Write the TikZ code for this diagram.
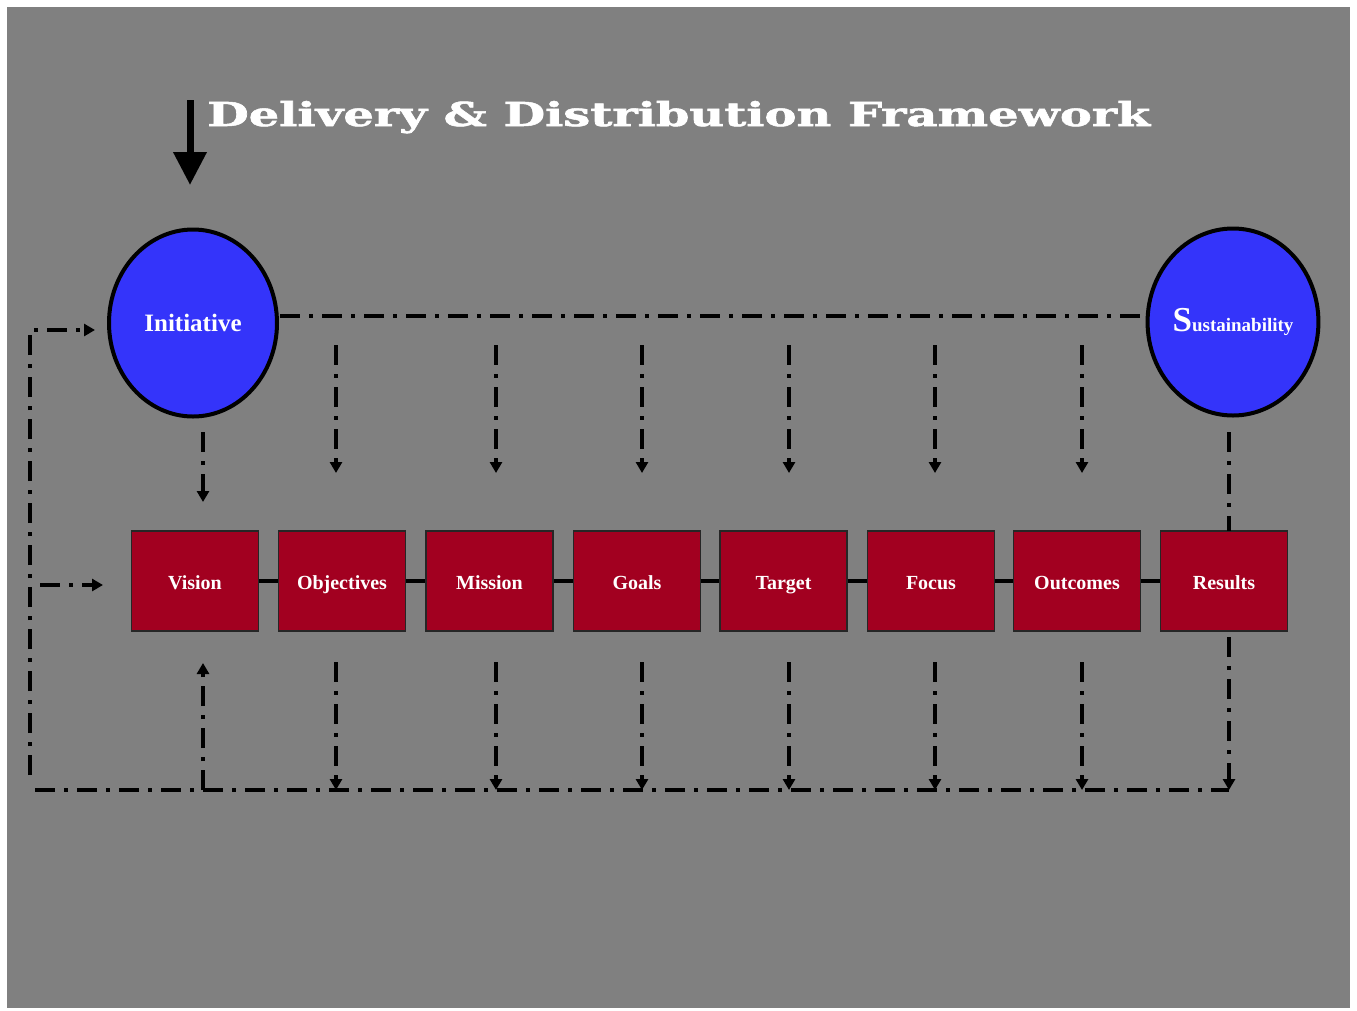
\documentclass[tikz,border=0pt]{standalone}
\usepackage{fontspec}
\usepackage{graphicx}
\setmainfont{Liberation Serif}
\newfontfamily\titlefont[BoldFeatures={FakeBold=1.5}]{DejaVu Serif}
\usetikzlibrary{arrows.meta,shapes.geometric}
\definecolor{bggray}{RGB}{128,128,128}
\definecolor{ballblue}{RGB}{52,52,250}
\definecolor{boxred}{RGB}{162,0,32}
\tikzset{
  ball/.style={ellipse, draw=black, line width=4pt, fill=ballblue, text=white,
    minimum width=168pt, minimum height=187pt, inner sep=0pt},
  stagebox/.style={rectangle, draw=black!85, line width=1.2pt, fill=boxred, text=white,
    minimum width=127pt, minimum height=100pt, inner sep=0pt,
    text height=16pt, text depth=0pt, font=\fontsize{20}{24}\selectfont\bfseries},
  flow/.style={line width=4pt, dash pattern=on 20pt off 9pt on 4pt off 9pt},
  tip/.style={-{Triangle[width=12pt,length=11pt]}},
  link/.style={line width=4.5pt, black}
}
\begin{document}
\begin{tikzpicture}[x=1pt,y=-1pt]
\useasboundingbox (0,0) rectangle (1357,1010);
\fill[white] (0,0) rectangle (1357,1010);
\fill[bggray] (7,7) rectangle (1350,1008);

% title
\node[anchor=base west, text=white, inner sep=0pt] (title) at (207,126)
  {\resizebox{943pt}{\height}{\titlefont\fontsize{33}{36}\selectfont\bfseries Delivery \& Distribution Framework}};
\coordinate (ta) at (190,100);
\coordinate (tb) at (190,185);
\draw[line width=7pt, -{Triangle[width=32pt,length=33pt]}] (ta) -- (tb);

% ellipses
\node[ball, font=\fontsize{25}{28}\selectfont\bfseries] (ini) at (193,323) {Initiative};
\node[ball] (sus) at (1233,322)
  {\bfseries{\fontsize{35}{35}\selectfont S}{\fontsize{19}{19}\selectfont ustainability}};

% boxes
\node[stagebox] (b1) at (195,581) {Vision};
\node[stagebox] (b2) at (342,581) {Objectives};
\node[stagebox] (b3) at (489.5,581) {Mission};
\node[stagebox] (b4) at (637,581) {Goals};
\node[stagebox] (b5) at (783.5,581) {Target};
\node[stagebox] (b6) at (931,581) {Focus};
\node[stagebox] (b7) at (1077,581) {Outcomes};
\node[stagebox] (b8) at (1224,581) {Results};

\foreach \a/\b in {b1/b2,b2/b3,b3/b4,b4/b5,b5/b6,b6/b7,b7/b8}
  \draw[link] (\a.east) -- (\b.west);

% top line
\coordinate (tl1) at (280,316);
\coordinate (tl2) at (1146,316);
\draw[flow] (tl1) -- (tl2);

% top and bottom vertical arrows
\foreach \x [count=\i] in {336,496,642,789,935,1082}{
  \coordinate (ut\i) at (\x,345);
  \coordinate (ub\i) at (\x,473);
  \draw[flow,tip] (ut\i) -- (ub\i);
  \coordinate (dt\i) at (\x,662);
  \coordinate (db\i) at (\x,790);
  \draw[flow,tip] (dt\i) -- (db\i);
}

% initiative -> vision
\coordinate (iv1) at (203,432);
\coordinate (iv2) at (203,502);
\draw[flow,tip] (iv1) -- (iv2);

% sustainability -> results
\coordinate (sr1) at (1229,432);
\coordinate (sr2) at (1229,531);
\draw[flow] (sr1) -- (sr2);

% results -> bottom line
\coordinate (rb1) at (1229,637);
\coordinate (rb2) at (1229,790);
\draw[flow,tip] (rb1) -- (rb2);

% bottom line
\coordinate (bl1) at (35,790);
\draw[flow] (bl1) -- (rb2);

% up arrow to vision
\coordinate (uv1) at (203,790);
\coordinate (uv2) at (203,663);
\draw[flow,tip] (uv1) -- (uv2);

% left loop
\coordinate (lb) at (30,775);
\coordinate (lc) at (30,330);
\coordinate (la) at (95,330);
\draw[flow,tip] (lb) -- (lc) -- (la);
\coordinate (br1) at (40,585);
\coordinate (br2) at (103,585);
\draw[flow,tip] (br1) -- (br2);
\end{tikzpicture}
\end{document}
